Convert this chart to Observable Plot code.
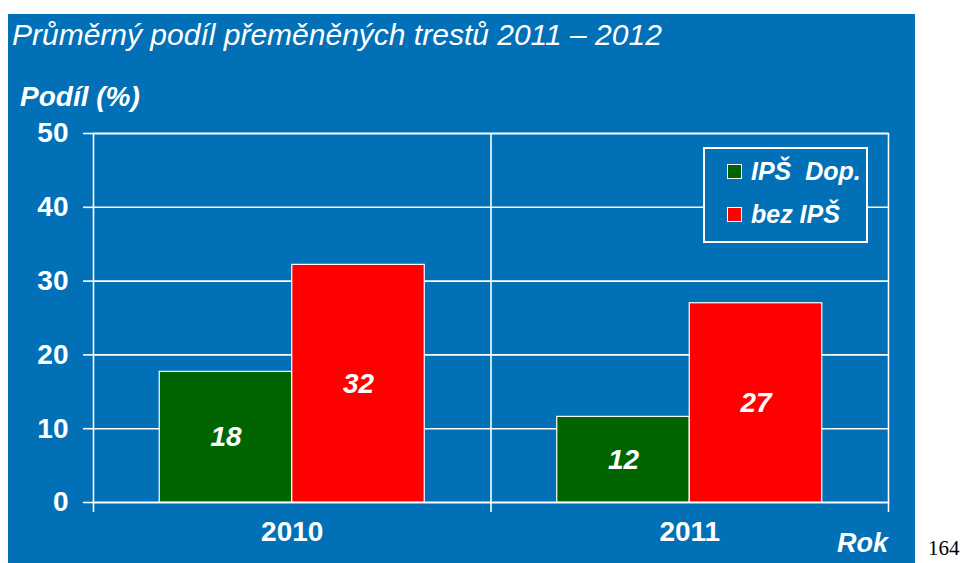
<!DOCTYPE html>
<html><head><meta charset="utf-8">
<script src="https://cdn.jsdelivr.net/npm/d3@7"></script>
<script src="https://cdn.jsdelivr.net/npm/@observablehq/plot@0.6"></script>
<style>
html,body{margin:0;padding:0;background:#fff;}
body{width:964px;height:563px;overflow:hidden;position:relative;font-family:"Liberation Sans",Arial,sans-serif;}
#panel{position:absolute;left:8px;top:14px;width:907px;height:549px;background:#0170b7;overflow:hidden;}
#title{position:absolute;left:4px;top:6px;color:#fff;font-style:italic;font-size:30px;line-height:30px;white-space:nowrap;}
#ylab{position:absolute;left:12px;top:68px;color:#fff;font-style:italic;font-weight:bold;font-size:28px;line-height:30px;white-space:nowrap;}
#xlab{position:absolute;right:27px;top:514px;color:#fff;font-style:italic;font-weight:bold;font-size:27px;line-height:30px;white-space:nowrap;}
#chart{position:absolute;left:0;top:0;}
#legend{position:absolute;left:695px;top:133px;width:161px;height:92px;border:2px solid #fff;background:#0170b7;}
.item{position:absolute;left:22px;height:26px;display:flex;align-items:center;color:#fff;font-style:italic;font-weight:bold;font-size:25px;white-space:pre;}
.sw{width:13px;height:13px;border:1px solid #fff;margin-right:9px;flex:none;}
#pg{position:absolute;left:928px;top:536px;font-family:"Liberation Serif","Times New Roman",serif;font-size:21px;color:#000;}
</style>
</head><body>
<div id="panel">
  <div id="chart"></div>
  <div id="title">Průměrný podíl přeměněných trestů 2011 – 2012</div>
  <div id="ylab">Podíl (%)</div>
  <div id="xlab">Rok</div>
  <div id="legend"></div>
</div>
<div id="pg">164</div>
<script>
const years = [2010, 2011];
const series = ["IPŠ Dop.", "bez IPŠ"];
const ipsDop = [17.7, 11.6];
const bezIps = [32.2, 27.0];
const yTicks = [0, 10, 20, 30, 40, 50];
const colors = ["#006400", "#ff0000"];
const legendLabels = ["IPŠ  Dop.", "bez IPŠ"];

const data = [];
years.forEach((yr, i) => {
  data.push({year: yr, series: series[0], value: ipsDop[i], side: -1});
  data.push({year: yr, series: series[1], value: bezIps[i], side: 1});
});
const half = 1 / 3;
const boundaries = [years[0] - 0.5, years[0] + 0.5, years[1] + 0.5];

const plot = Plot.plot({
  width: 907,
  height: 549,
  marginLeft: 85,
  marginRight: 27,
  marginTop: 119,
  marginBottom: 61,
  style: {background: "transparent", color: "white", fontFamily: "Liberation Sans, Arial, sans-serif"},
  x: {type: "linear", domain: [years[0] - 0.5, years[1] + 0.5]},
  y: {domain: [0, 50]},
  color: {domain: series, range: colors},
  marks: [
    Plot.gridY(yTicks, {stroke: "white", strokeOpacity: 1, strokeWidth: 1.6}),
    Plot.gridX([boundaries[1]], {stroke: "white", strokeOpacity: 1, strokeWidth: 1.6}),
    Plot.frame({stroke: "white", strokeWidth: 1.6}),
    Plot.axisY(yTicks, {anchor: "left", tickSize: 10, tickPadding: 15, strokeWidth: 1.6, fontSize: 28, fontWeight: "bold", label: null}),
    Plot.axisX(boundaries, {anchor: "bottom", tickSize: 10, strokeWidth: 1.6, tickFormat: () => "", label: null}),
    Plot.axisX(years, {anchor: "bottom", tickSize: 0, tickPadding: 19, fontSize: 28, fontWeight: "bold", tickFormat: d => String(d), label: null}),
    Plot.rectY(data, {
      x1: d => d.side < 0 ? d.year - half : d.year,
      x2: d => d.side < 0 ? d.year : d.year + half,
      y: "value",
      fill: "series",
      stroke: "white",
      strokeWidth: 1.2
    }),
    Plot.text(data, {
      x: d => d.year + d.side * half / 2,
      y: d => d.value / 2,
      text: d => String(Math.round(d.value)),
      fill: "white",
      fontSize: 28,
      fontWeight: "bold",
      fontStyle: "italic"
    })
  ]
});
document.getElementById("chart").appendChild(plot);

const legend = document.getElementById("legend");
legendLabels.forEach((lab, i) => {
  const it = document.createElement("div");
  it.className = "item";
  it.style.top = (i === 0 ? 9 : 52) + "px";
  const sw = document.createElement("span");
  sw.className = "sw";
  sw.style.background = colors[i];
  it.appendChild(sw);
  it.appendChild(document.createTextNode(lab));
  legend.appendChild(it);
});
</script>
</body></html>
